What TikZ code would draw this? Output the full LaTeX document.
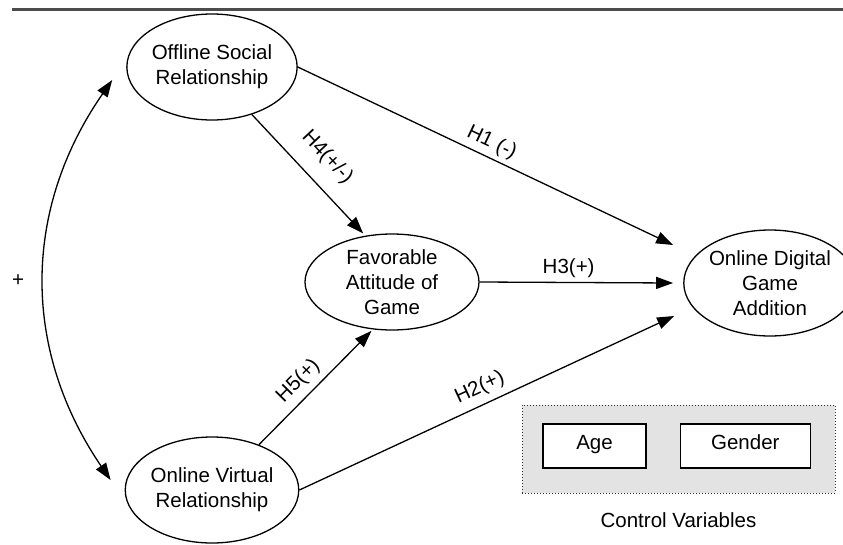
\documentclass[tikz,border=0pt]{standalone}
\usepackage{fontspec}
\setmainfont{Liberation Sans}
\usetikzlibrary{positioning}
\usetikzlibrary{shapes.geometric}
\usetikzlibrary {arrows.meta}
\tikzset{construct/.style={ellipse,draw=black,fill=white,line width=1.3pt,
inner sep=0pt,minimum width=166pt, minimum height=106pt,align=center,
font=\fontsize{20.5}{25}\selectfont}}
\tikzset{controlbox/.style={rectangle,draw=black!80,dotted,fill=black!11,line width=1pt,
inner sep=0pt,minimum height=88pt, minimum width=313pt}}
\tikzset{controlitem/.style={rectangle,draw=black,fill=white,line width=1.3pt,
inner sep=0pt,minimum height=44pt,text height=1.3ex,text depth=0ex,
font=\fontsize{20.5}{25}\selectfont}}
\tikzset{hyparrow/.style={line width=1.3pt,-{Triangle[length=17pt,width=12pt]}}}
\tikzset{hyplabel/.style={font=\fontsize{20.5}{25}\selectfont}}

\begin{document}
\begin{tikzpicture}[x=1pt,y=-1pt]
        \useasboundingbox (0,0) rectangle (843,544);
        \draw[line width=3pt,black!70] (12,9) -- (843,9);

        \node[construct] (ellOff) at (212, 67) {Offline Social\\Relationship};
        \node[construct] (ellVirt) at (212, 490) {Online Virtual\\Relationship};
        \node[construct, minimum width=174pt, minimum height=96pt] (ellFav) at (392, 282) {Favorable\\Attitude of\\Game};
        \node[construct] (ellDig) at (770, 283) {Online Digital\\Game\\Addition};

        \node[controlbox] (boxCtrl) at (678.5, 449) { };
        \node[controlitem, minimum width=103pt] (boxAge) at (594.5, 446) {Age};
        \node[controlitem, minimum width=130pt] (boxGender) [right=33pt of boxAge] {Gender};
        \node[hyplabel] (ctrlLabel) [below=16pt of boxCtrl] {Control Variables};

        \draw [hyparrow] (ellOff.east) --node[hyplabel, sloped, above=1pt] {H1 (-)} ([xshift=-10pt,yshift=38pt]ellDig.west);
        \draw [hyparrow] (ellFav.east) --node[hyplabel, pos=0.46, above=1pt] {H3(+)} ([xshift=-10pt]ellDig.west);
        \draw [hyparrow] (ellVirt.east) --node[hyplabel, sloped, above=3pt] {H2(+)} ([xshift=-9pt,yshift=-33pt]ellDig.west);
        \draw [hyparrow, shorten >=3pt] (ellOff.-50) --node[hyplabel, sloped, above=12pt] {H4(+/-)} (ellFav.120);
        \draw [hyparrow, shorten >=2pt] (ellVirt.44) --node[hyplabel, sloped, pos=0.45, above=3pt] {H5(+)} (ellFav.-112);

        \coordinate (curveTop) at ([xshift=-14pt,yshift=-13pt]ellOff.west);
        \coordinate (curveBot) at ([xshift=-14pt,yshift=10pt]ellVirt.west);
        \draw [line width=1.3pt,{Triangle[length=17pt,width=12pt]}-{Triangle[length=17pt,width=12pt]}] (curveTop) .. controls (22,210) and (22,350) .. (curveBot);
        \node[hyplabel] (plusLabel) at (18, 281) {+};

    \end{tikzpicture}
\end{document}
